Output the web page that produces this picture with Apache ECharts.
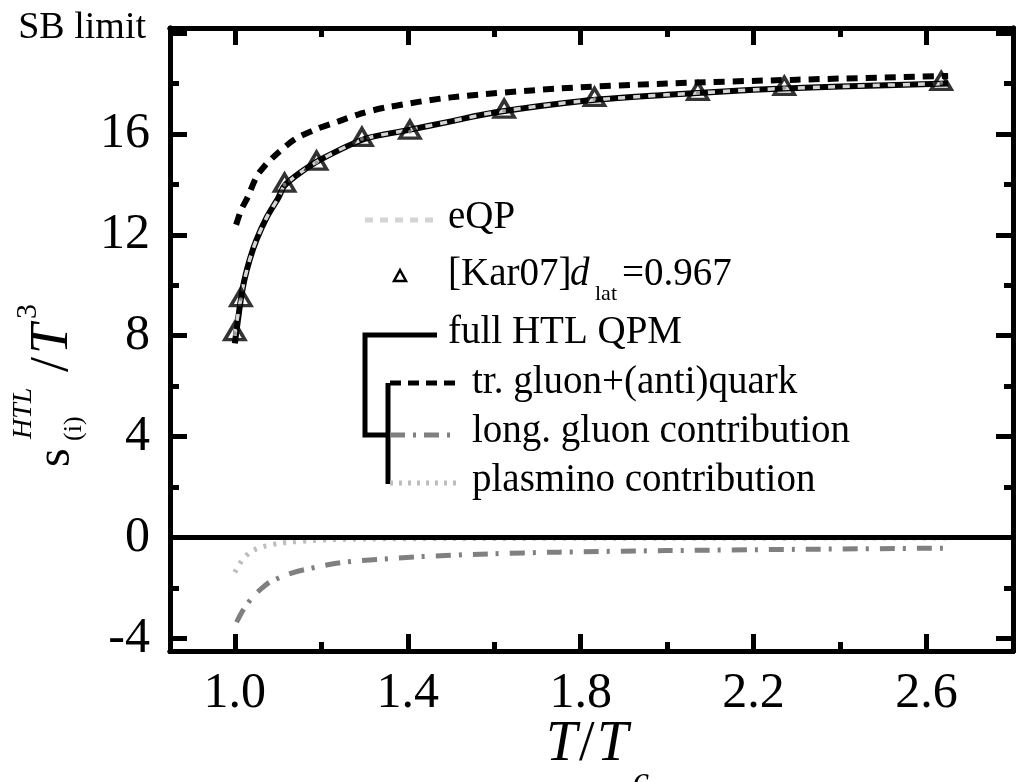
<!DOCTYPE html>
<html>
<head>
<meta charset="utf-8">
<script src="https://cdn.jsdelivr.net/npm/echarts@6/dist/echarts.min.js"></script>
<style>
html, body { margin: 0; padding: 0; background: #fff; }
#chart { width: 1016px; height: 782px; }
</style>
</head>
<body>
<div id="chart"></div>
<script>
// tick positions
const xMajor = [1.0, 1.4, 1.8, 2.2, 2.6];
const xMinor = [1.2, 1.6, 2.0, 2.4];
const yMajor = [-4, 0, 4, 8, 12, 16, 20];
const yMinor = [-2, 2, 6, 10, 14, 18];
const sbLimit = 20;

// lattice points [Kar07]
const karT = [1.000, 1.014, 1.115, 1.189, 1.294, 1.405, 1.623, 1.832, 2.071, 2.271, 2.634];
const karS = [8.10, 9.45, 13.99, 14.86, 15.80, 16.09, 16.92, 17.39, 17.63, 17.83, 18.02];

// full HTL QPM
const fullT = [1.0, 1.007, 1.014, 1.022, 1.034, 1.05, 1.074, 1.1, 1.115, 1.15, 1.2, 1.3, 1.4, 1.5, 1.6, 1.8, 2.0, 2.2, 2.4, 2.65];
const fullS = [7.7, 8.6, 9.45, 10.2, 11.0, 11.8, 12.7, 13.45, 13.95, 14.45, 15.0, 15.8, 16.15, 16.5, 16.85, 17.3, 17.55, 17.75, 17.88, 18.0];

// eQP
const eqpT = [1.0, 1.007, 1.014, 1.022, 1.034, 1.05, 1.074, 1.1, 1.115, 1.15, 1.2, 1.3, 1.4, 1.5, 1.6, 1.8, 2.0, 2.2, 2.4, 2.65];
const eqpS = [8.0, 8.8, 9.5, 10.2, 11.0, 11.8, 12.7, 13.45, 13.95, 14.45, 15.0, 15.8, 16.15, 16.5, 16.85, 17.3, 17.55, 17.75, 17.88, 18.0];

// tr. gluon + (anti)quark
const trT = [1.003, 1.015, 1.03, 1.05, 1.07, 1.09, 1.14, 1.19, 1.24, 1.29, 1.35, 1.5, 1.75, 2.0, 2.3, 2.65];
const trS = [12.4, 13.0, 13.5, 14.3, 14.75, 15.1, 15.8, 16.2, 16.5, 16.8, 17.05, 17.45, 17.8, 18.0, 18.15, 18.3];

// long. gluon contribution
const longT = [1.004, 1.02, 1.039, 1.06, 1.08, 1.122, 1.165, 1.248, 1.333, 1.418, 1.586, 1.75, 2.0, 2.3, 2.65];
const longS = [-3.36, -2.85, -2.41, -2.05, -1.78, -1.46, -1.26, -0.99, -0.87, -0.77, -0.65, -0.58, -0.52, -0.47, -0.42];

// plasmino contribution
const plasT = [1.0, 1.015, 1.034, 1.05, 1.07, 1.1, 1.13, 1.18, 1.225, 1.3, 1.5, 2.0, 2.65];
const plasS = [-1.38, -0.95, -0.6, -0.45, -0.34, -0.24, -0.18, -0.12, -0.08, -0.06, -0.04, -0.03, -0.02];

const zip = (a, b) => a.map((v, i) => [v, b[i]]);
const FONT = "'Liberation Serif', 'DejaVu Serif', serif";

const chart = echarts.init(document.getElementById('chart'));

// helper for frame axes
function xAx(pos, ticks, len, labels) {
    return {
        type: 'value', min: 0.85, max: 2.8, position: pos,
        axisLine: { show: true, onZero: false, lineStyle: { color: '#000', width: 5 } },
        axisTick: { show: true, inside: true, length: len, customValues: ticks, lineStyle: { color: '#000', width: 5 } },
        axisLabel: labels ? {
            show: true, customValues: ticks, margin: 18,
            formatter: v => v.toFixed(1),
            fontFamily: FONT, fontSize: 50, color: '#000'
        } : { show: false },
        splitLine: { show: false }
    };
}
function yAx(pos, ticks, len, labels) {
    return {
        type: 'value', min: -4.5, max: 20.2, position: pos,
        axisLine: { show: true, onZero: false, lineStyle: { color: '#000', width: 5 } },
        axisTick: { show: true, inside: true, length: len, customValues: ticks, lineStyle: { color: '#000', width: 5 } },
        axisLabel: labels ? {
            show: true, customValues: ticks, margin: 20,
            formatter: v => v === sbLimit ? '{sb|SB limit}' : String(v),
            fontFamily: FONT, fontSize: 50, color: '#000',
            rich: { sb: { fontFamily: FONT, fontSize: 38, color: '#000', padding: [0, 4, 10, 0] } }
        } : { show: false },
        splitLine: { show: false }
    };
}

const txt = (x, y, text, size, extra) => ({
    type: 'text', x: x, y: y,
    style: Object.assign({ text: text, font: size + 'px ' + FONT, fill: '#000', verticalAlign: 'middle', align: 'left' }, extra || {})
});
const seg = (x1, y1, x2, y2, style) => ({
    type: 'line', shape: { x1: x1, y1: y1, x2: x2, y2: y2 },
    style: Object.assign({ stroke: '#000', lineWidth: 5 }, style)
});

chart.setOption({
    animation: false,
    backgroundColor: '#fff',
    grid: { left: 170, right: 3, top: 28, bottom: 131, containLabel: false },
    xAxis: [
        xAx('bottom', xMajor, 17, true),
        xAx('bottom', xMinor, 9, false),
        xAx('top', xMajor, 17, false),
        xAx('top', xMinor, 9, false)
    ],
    yAxis: [
        yAx('left', yMajor, 17, true),
        yAx('left', yMinor, 9, false),
        yAx('right', yMajor, 17, false),
        yAx('right', yMinor, 9, false)
    ],
    series: [
        {
            name: 'long. gluon contribution', type: 'line', data: zip(longT, longS),
            showSymbol: false, smooth: 0.3, z: 2,
            lineStyle: { color: '#808080', width: 5, type: [15, 8, 3, 11] },
            markLine: {
                silent: true, symbol: 'none', label: { show: false },
                data: [{ yAxis: 0 }],
                lineStyle: { color: '#000', width: 5, type: 'solid' }
            }
        },
        {
            name: 'plasmino contribution', type: 'line', data: zip(plasT, plasS),
            showSymbol: false, smooth: 0.3, z: 3,
            lineStyle: { color: '#bdbdbd', width: 5, type: [3, 7] }
        },
        {
            name: 'tr. gluon+(anti)quark', type: 'line', data: zip(trT, trS),
            showSymbol: false, smooth: 0.3, z: 3,
            lineStyle: { color: '#000', width: 6, type: [11, 8] }
        },
        {
            name: 'full HTL QPM', type: 'line', data: zip(fullT, fullS),
            showSymbol: false, smooth: 0.3, z: 4,
            lineStyle: { color: '#000', width: 6, type: 'solid' }
        },
        {
            name: 'eQP', type: 'line', data: zip(eqpT, eqpS),
            showSymbol: false, smooth: 0.3, z: 5,
            lineStyle: { color: '#d4d4d4', width: 3.5, type: [7, 8] }
        },
        {
            name: 'Kar07', type: 'scatter', data: zip(karT, karS), z: 6,
            symbol: 'triangle', symbolSize: [20, 17], symbolOffset: [0, -2],
            itemStyle: { color: 'rgba(0,0,0,0)', borderColor: '#000', borderWidth: 3.5 }
        },
        {
            name: 'Kar07 dot', type: 'scatter', data: zip(karT, karS), z: 7,
            symbol: 'circle', symbolSize: 4,
            itemStyle: { color: '#8c8c8c' }
        }
    ],
    graphic: [
        // legend
        seg(365, 220, 437, 220, { stroke: '#d4d4d4', lineDash: [8, 7] }),
        {
            type: 'polygon', shape: { points: [[394, 281], [406, 281], [400, 270]] },
            style: { stroke: '#000', lineWidth: 2.5, fill: 'none' }
        },
        {
            type: 'polyline', shape: { points: [[437, 335], [365, 335], [365, 435], [388, 435]] },
            style: { stroke: '#000', lineWidth: 5, fill: 'none' }
        },
        seg(388, 383, 388, 484, {}),
        seg(390, 383, 458, 383, { lineDash: [11, 7] }),
        seg(390, 435, 458, 435, { stroke: '#808080', lineDash: [15, 8, 3, 8] }),
        seg(390, 483, 458, 483, { stroke: '#bdbdbd', lineDash: [3, 6] }),
        txt(448, 218, 'eQP', 39),
        txt(448, 275, '[Kar07]', 39),
        txt(570, 275, 'd', 39, { font: 'italic 39px ' + FONT }),
        txt(595, 294, 'lat', 22),
        txt(622, 275, '=0.967', 39),
        txt(448, 333, 'full HTL QPM', 39),
        txt(472, 383, 'tr. gluon+(anti)quark', 39),
        txt(472, 432, 'long. gluon contribution', 39),
        txt(472, 481, 'plasmino contribution', 39),
        // x axis name
        txt(546, 745, 'T', 56, { font: 'italic 56px ' + FONT }),
        txt(579, 745, '/', 56),
        txt(597, 745, 'T', 56, { font: 'italic 56px ' + FONT }),
        txt(633, 782, 'c', 36, { font: 'italic 36px ' + FONT }),
        // y axis name (rotated)
        {
            type: 'group', x: 70, y: 467, rotation: Math.PI / 2,
            children: [
                txt(0, -14, 's', 48),
                txt(28, -46, 'HTL', 28, { font: 'italic 28px ' + FONT }),
                txt(26, 4, '(i)', 26),
                txt(95, -17, '/', 54),
                txt(113, -17, 'T', 54, { font: 'italic 54px ' + FONT }),
                txt(148, -42, '3', 30)
            ]
        }
    ]
});
</script>
</body>
</html>
